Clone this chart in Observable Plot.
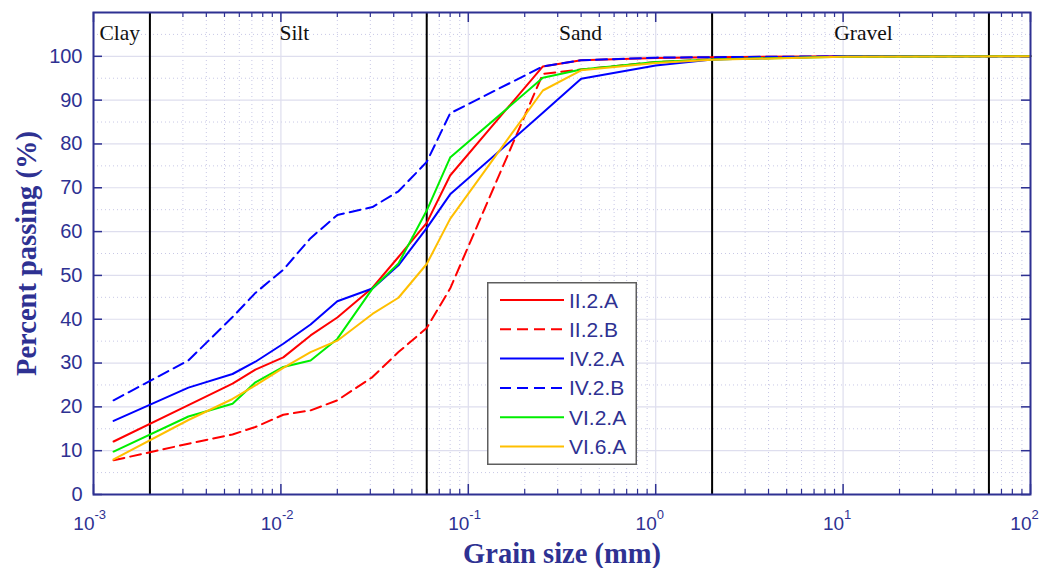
<!DOCTYPE html>
<html><head><meta charset="utf-8">
<script src="https://cdn.jsdelivr.net/npm/d3@7"></script>
<script src="https://cdn.jsdelivr.net/npm/@observablehq/plot@0.6"></script>
<style>
body{margin:0;background:#fff;}
#wrap{position:relative;width:1047px;height:568px;}
#legend{position:absolute;left:487px;top:282px;}
</style></head><body><div id="wrap"></div>
<script>
// ---- data ----
const grainSize = [0.00128, 0.00321, 0.00552, 0.00731, 0.0103, 0.0144, 0.02, 0.0308, 0.0424, 0.06, 0.08, 0.25, 0.4, 1, 2, 10, 100];
const seriesNames = ["II.2.A", "II.2.B", "IV.2.A", "IV.2.B", "VI.2.A", "VI.6.A"];
const s_II2A = [12.1, 20.4, 25.3, 28.5, 31.3, 36.3, 40.4, 47.2, 54.2, 62.0, 72.8, 97.7, 99.1, 99.6, 99.8, 100, 100];
const s_II2B = [7.8, 11.6, 13.7, 15.4, 18.2, 19.2, 21.5, 26.8, 32.5, 38.0, 47.0, 96.0, 97.0, 98.7, 99.3, 100, 100];
const s_IV2A = [16.8, 24.4, 27.5, 30.3, 34.4, 38.8, 44.1, 47.0, 52.3, 60.8, 68.5, 87.1, 94.9, 97.9, 99.3, 100, 100];
const s_IV2B = [21.5, 30.6, 40.5, 46.0, 51.3, 58.5, 63.8, 65.6, 69.2, 75.9, 87.0, 97.7, 99.1, 99.7, 99.8, 100, 100];
const s_VI2A = [9.8, 17.8, 20.7, 25.6, 29.1, 30.6, 35.5, 47.0, 52.7, 64.8, 76.9, 95.1, 97.0, 98.7, 99.3, 99.9, 100];
const s_VI6A = [8.0, 17.0, 21.8, 24.9, 28.9, 32.5, 35.1, 41.2, 44.9, 52.6, 62.9, 92.2, 96.8, 98.5, 99.2, 99.9, 100];
const seriesValues = [s_II2A, s_II2B, s_IV2A, s_IV2B, s_VI2A, s_VI6A];
const seriesColors = ["#ff0000", "#ff0000", "#0000ff", "#0000ff", "#00ee00", "#ffbf00"];
const seriesDashed = [false, true, false, true, false, false];

const boundaries = [0.002, 0.06, 2, 60];
const regionNames = ["Clay", "Silt", "Sand", "Gravel"];
const regionX = [0.00138, 0.0118, 0.397, 12.85];
const regionY = 105.3;

const yTicks = [0, 10, 20, 30, 40, 50, 60, 70, 80, 90, 100];
const yMinor = [5, 15, 25, 35, 45, 55, 65, 75, 85, 95, 105];
const decadeExp = [-3, -2, -1, 0, 1, 2];

// ---- layout ----
const W = 1047, H = 568, mL = 93, mR = 17, mT = 12, mB = 74;
const frameW = W - mL - mR, frameH = H - mT - mB;
const axisColor = "#2e3192";
const decades = decadeExp.map(e => Math.pow(10, e));
const xMinor = decadeExp.slice(0, -1).flatMap(e => d3.range(2, 10).map(m => m * Math.pow(10, e)));

const lineMarks = seriesValues.map((vals, i) =>
  Plot.line(grainSize.map((g, j) => ({x: g, y: vals[j]})), {
    x: "x", y: "y", stroke: seriesColors[i], strokeWidth: 2,
    strokeDasharray: seriesDashed[i] ? "11,6" : null
  })
);

const chart = Plot.plot({
  width: W, height: H,
  marginLeft: mL, marginRight: mR, marginTop: mT, marginBottom: mB,
  x: {type: "log", domain: [1e-3, 1e2], axis: null},
  y: {domain: [0, 110], axis: null},
  style: {background: "white"},
  marks: [
    // grid
    Plot.ruleX(xMinor, {x: d => d, stroke: "#c8c8e6", strokeDasharray: "1,3"}),
    Plot.ruleY(yMinor, {y: d => d, stroke: "#c8c8e6", strokeDasharray: "1,3"}),
    Plot.ruleX(decades, {x: d => d, stroke: "#dedeee", strokeWidth: 1.2}),
    Plot.ruleY(yTicks, {y: d => d, stroke: "#dedeee", strokeWidth: 1.2}),
    // ticks (inward)
    Plot.tickY(yTicks, {y: d => d, insetRight: frameW - 9, stroke: axisColor, strokeWidth: 1.5}),
    Plot.tickY(yTicks, {y: d => d, insetLeft: frameW - 9, stroke: axisColor, strokeWidth: 1.5}),
    Plot.tickX(decades, {x: d => d, insetTop: frameH - 10, stroke: axisColor, strokeWidth: 1.5}),
    Plot.tickX(decades, {x: d => d, insetBottom: frameH - 10, stroke: axisColor, strokeWidth: 1.5}),
    Plot.tickX(xMinor, {x: d => d, insetTop: frameH - 5, stroke: axisColor, strokeWidth: 1.2}),
    Plot.tickX(xMinor, {x: d => d, insetBottom: frameH - 5, stroke: axisColor, strokeWidth: 1.2}),
    // region boundaries
    Plot.ruleX(boundaries, {x: d => d, stroke: "black", strokeWidth: 2}),
    // region labels
    Plot.text(regionNames, {x: (d, i) => regionX[i], y: () => regionY, text: d => d,
      fontFamily: "Liberation Serif", fontSize: 21.5, fill: "#111"}),
    // series
    ...lineMarks,
    // frame
    Plot.frame({stroke: axisColor, strokeWidth: 2}),
    // y tick labels
    Plot.text(yTicks, {y: d => d, frameAnchor: "left", dx: -11, textAnchor: "end", text: d => String(d),
      fontFamily: "Liberation Sans", fontSize: 20, fill: axisColor}),
    // x tick labels (10 with superscript exponent)
    Plot.text(decadeExp, {x: e => Math.pow(10, e), frameAnchor: "bottom", dy: 29, dx: 1, textAnchor: "end",
      lineAnchor: "middle", text: () => "10", fontFamily: "Liberation Sans", fontSize: 19, fill: axisColor}),
    Plot.text(decadeExp, {x: e => Math.pow(10, e), frameAnchor: "bottom", dy: 20, dx: 1, textAnchor: "start",
      lineAnchor: "middle", text: e => String(e), fontFamily: "Liberation Sans", fontSize: 13, fill: axisColor}),
    // axis titles
    Plot.text(["Percent passing (%)"], {frameAnchor: "left", dx: -67, rotate: -90, text: d => d,
      textAnchor: "middle", lineAnchor: "middle",
      fontFamily: "Liberation Serif", fontWeight: "bold", fontSize: 28.5, fill: axisColor}),
    Plot.text(["Grain size (mm)"], {frameAnchor: "bottom", dy: 59, text: d => d,
      textAnchor: "middle", lineAnchor: "middle",
      fontFamily: "Liberation Serif", fontWeight: "bold", fontSize: 28.5, fill: axisColor})
  ]
});

const wrap = document.getElementById("wrap");
wrap.appendChild(chart);

// ---- legend (inside plot area) ----
const lw = 150, lh = 183, rowH = 29.3, row0 = 18;
const leg = d3.create("svg").attr("id", "legend").attr("width", lw).attr("height", lh);
leg.append("rect").attr("x", 0.75).attr("y", 0.75).attr("width", lw - 1.5).attr("height", lh - 1.5)
  .attr("fill", "white").attr("stroke", "#5e5e5e").attr("stroke-width", 1.5);
seriesNames.forEach((name, i) => {
  const y = row0 + i * rowH;
  leg.append("line").attr("x1", 13).attr("x2", 77).attr("y1", y).attr("y2", y)
    .attr("stroke", seriesColors[i]).attr("stroke-width", 2)
    .attr("stroke-dasharray", seriesDashed[i] ? "11,6" : null);
  leg.append("text").attr("x", 82).attr("y", y).attr("dy", "0.36em")
    .attr("font-family", "Liberation Sans").attr("font-size", 21).attr("fill", axisColor).text(name);
});
wrap.appendChild(leg.node());
</script>
</body></html>
